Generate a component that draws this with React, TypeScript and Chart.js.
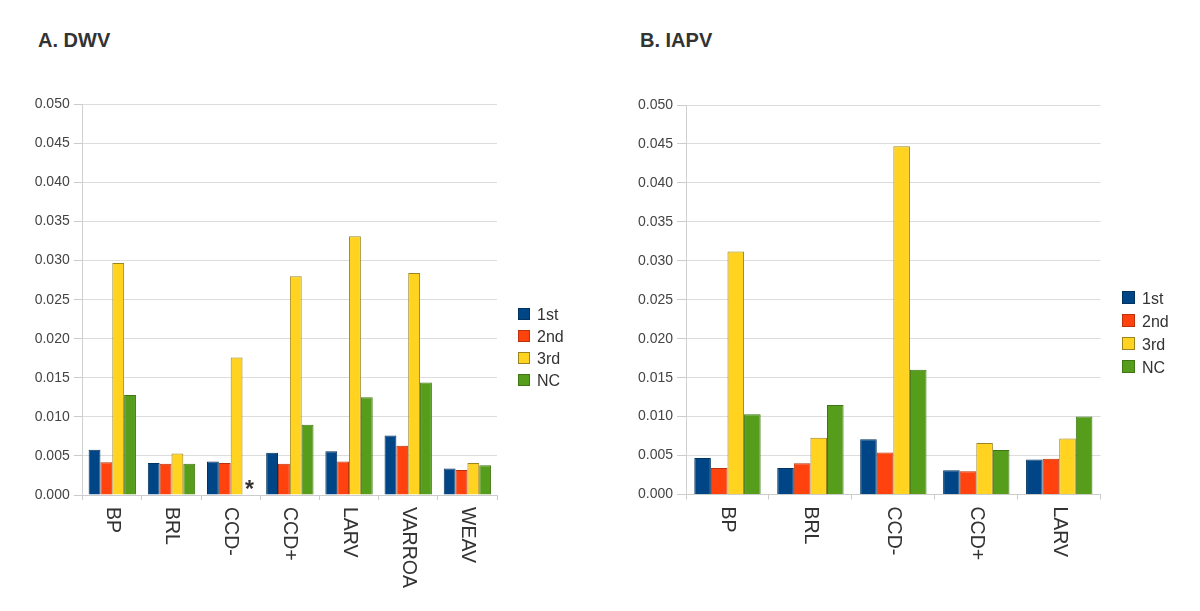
import React, { useEffect, useRef } from "react";
import { Chart, registerables } from "chart.js";

Chart.register(...registerables);

const FONT = "'Liberation Sans', Arial, Helvetica, sans-serif";

const seriesNames = ["1st", "2nd", "3rd", "NC"];
const seriesColors = ["#004586", "#ff420e", "#ffd320", "#579d1c"];
const seriesBorders = ["#00335f", "#b9320c", "#9a8420", "#3f7514"];

const dwvCategories = ["BP", "BRL", "CCD-", "CCD+", "LARV", "VARROA", "WEAV"];
const dwv1st = [0.0058, 0.0041, 0.0043, 0.0054, 0.0056, 0.0076, 0.0034];
const dwv2nd = [0.0042, 0.004, 0.0041, 0.004, 0.0043, 0.0063, 0.0032];
const dwv3rd = [0.0297, 0.0053, 0.0176, 0.028, 0.0331, 0.0284, 0.0041];
const dwvNC = [0.0128, 0.004, null, 0.009, 0.0125, 0.0144, 0.0038];

const iapvCategories = ["BP", "BRL", "CCD-", "CCD+", "LARV"];
const iapv1st = [0.0047, 0.0034, 0.0071, 0.0031, 0.0045];
const iapv2nd = [0.0034, 0.004, 0.0054, 0.003, 0.0046];
const iapv3rd = [0.0312, 0.0073, 0.0447, 0.0066, 0.0072];
const iapvNC = [0.0103, 0.0115, 0.016, 0.0057, 0.01];

const yMin = 0;
const yMax = 0.05;
const yStep = 0.005;
const missingMark = "*";

type Geo = {
  left: number;
  width: number;
  height: number;
  axisX: number;
  plotRight: number;
  plotTop: number;
  plotBottom: number;
};

const xLabelPlugin = {
  id: "rotLabels",
  afterDraw(chart: any) {
    const xs = chart.scales.x;
    const ctx = chart.ctx;
    const labels: string[] = chart.data.labels;
    ctx.save();
    ctx.font = `19.5px ${FONT}`;
    ctx.fillStyle = "#333333";
    ctx.textAlign = "left";
    ctx.textBaseline = "middle";
    labels.forEach((lab, i) => {
      const x = xs.getPixelForTick(i);
      ctx.save();
      ctx.translate(x, chart.chartArea.bottom + 12);
      ctx.rotate(Math.PI / 2);
      ctx.fillText(lab, 0, 0);
      ctx.restore();
    });
    // missing-value marks
    ctx.font = `bold 23px ${FONT}`;
    ctx.textAlign = "center";
    ctx.textBaseline = "alphabetic";
    chart.data.datasets.forEach((ds: any, d: number) => {
      const meta = chart.getDatasetMeta(d);
      ds.data.forEach((v: any, i: number) => {
        if (v === null || v === undefined) {
          const el = meta.data[i];
          if (el) ctx.fillText(missingMark, el.x + 1, chart.chartArea.bottom + 2);
        }
      });
    });
    ctx.restore();
  },
};

function BarPanel({
  geo,
  categories,
  values,
}: {
  geo: Geo;
  categories: string[];
  values: (number | null)[][];
}) {
  const ref = useRef<HTMLCanvasElement | null>(null);
  useEffect(() => {
    if (!ref.current) return;
    const n = categories.length;
    const chart = new Chart(ref.current, {
      type: "bar",
      data: {
        labels: categories,
        datasets: values.map((vals, k) => ({
          label: seriesNames[k],
          data: vals,
          backgroundColor: seriesColors[k],
          borderColor: seriesBorders[k],
          borderWidth: 1,
          categoryPercentage: 0.8,
          barPercentage: 1.0,
        })),
      },
      options: {
        animation: false,
        responsive: false,
        devicePixelRatio: 1,
        layout: {
          padding: {
            left: 0,
            top: geo.plotTop,
            right: geo.width - geo.plotRight,
            bottom: 0,
          },
        },
        plugins: {
          legend: { display: false },
          tooltip: { enabled: false },
        },
        scales: {
          x: {
            offset: true,
            afterFit: (s: any) => {
              s.height = geo.height - geo.plotBottom;
            },
            ticks: { display: false },
            grid: {
              offset: true,
              drawOnChartArea: true,
              drawTicks: true,
              tickLength: 5,
              tickColor: "#cccccc",
              color: (c: any) =>
                c.index === n ? "#e2e2e2" : "rgba(0,0,0,0)",
            },
            border: { color: "#cccccc" },
          },
          y: {
            min: yMin,
            max: yMax,
            afterFit: (s: any) => {
              s.width = geo.axisX;
            },
            ticks: {
              stepSize: yStep,
              padding: 4,
              color: "#444444",
              font: { family: FONT, size: 14 },
              callback: (v: any) => Number(v).toFixed(3),
            },
            grid: {
              color: "#dddddd",
              tickLength: 9,
              tickColor: "#cccccc",
            },
            border: { color: "#d0d0d0" },
          },
        },
      },
      plugins: [xLabelPlugin],
    });
    return () => chart.destroy();
  }, []);
  return (
    <canvas
      ref={ref}
      width={geo.width}
      height={geo.height}
      style={{
        position: "absolute",
        left: geo.left,
        top: 0,
        width: geo.width,
        height: geo.height,
      }}
    />
  );
}

function Legend({
  x,
  y0,
  step,
  size,
}: {
  x: number;
  y0: number;
  step: number;
  size: number;
}) {
  return (
    <>
      {seriesNames.map((name, k) => (
        <div
          key={name}
          style={{
            position: "absolute",
            left: x,
            top: y0 + k * step - 10,
            height: 20,
            display: "flex",
            alignItems: "center",
            fontFamily: FONT,
            fontSize: 16,
            color: "#333333",
            whiteSpace: "nowrap",
          }}
        >
          <div
            style={{
              width: size,
              height: size,
              boxSizing: "border-box",
              background: seriesColors[k],
              border: `1px solid ${seriesBorders[k]}`,
              marginRight: 7,
            }}
          />
          <span style={{ lineHeight: "20px", position: "relative", top: 1 }}>{name}</span>
        </div>
      ))}
    </>
  );
}

const titleStyle: React.CSSProperties = {
  position: "absolute",
  fontFamily: FONT,
  fontWeight: "bold",
  fontSize: 20,
  lineHeight: "20px",
  color: "#333333",
  whiteSpace: "nowrap",
};

export default function App() {
  const leftGeo: Geo = {
    left: 0,
    width: 600,
    height: 611,
    axisX: 82.7,
    plotRight: 497,
    plotTop: 104.3,
    plotBottom: 495,
  };
  const rightGeo: Geo = {
    left: 600,
    width: 600,
    height: 611,
    axisX: 86,
    plotRight: 500.7,
    plotTop: 105,
    plotBottom: 494.5,
  };
  return (
    <div
      style={{
        position: "absolute",
        left: 0,
        top: 0,
        width: 1200,
        height: 611,
        background: "#ffffff",
        overflow: "hidden",
      }}
    >
      <div style={{ ...titleStyle, left: 38, top: 30 }}>A. DWV</div>
      <div style={{ ...titleStyle, left: 640, top: 29.7 }}>B. IAPV</div>
      <BarPanel
        geo={leftGeo}
        categories={dwvCategories}
        values={[dwv1st, dwv2nd, dwv3rd, dwvNC]}
      />
      <BarPanel
        geo={rightGeo}
        categories={iapvCategories}
        values={[iapv1st, iapv2nd, iapv3rd, iapvNC]}
      />
      <Legend x={518} y0={313.5} step={22} size={12} />
      <Legend x={1122} y0={297.7} step={23} size={13} />
    </div>
  );
}
